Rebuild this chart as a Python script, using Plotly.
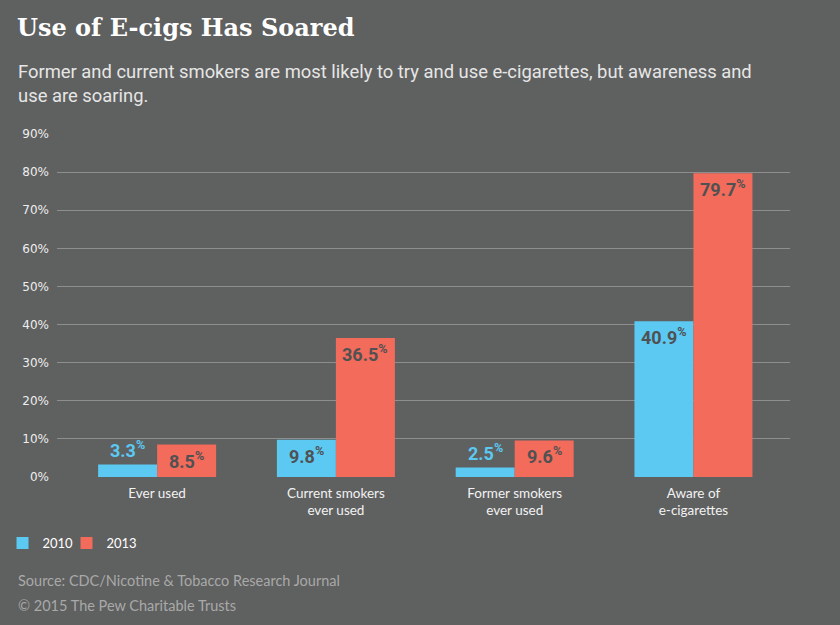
import plotly.graph_objects as go

categories = ["Ever used", "Current smokers<br>ever used", "Former smokers<br>ever used", "Aware of<br>e-cigarettes"]
years = ["2010", "2013"]
values_2010 = [3.3, 9.8, 2.5, 40.9]
values_2013 = [8.5, 36.5, 9.6, 79.7]
y_ticks = [0, 10, 20, 30, 40, 50, 60, 70, 80, 90]
y_ticktext = [f"{v}%" for v in y_ticks]

BG = "#5f6060"
BLUE = "#5bc9f2"
RED = "#f26b5b"
DARK = "#505152"
GRID = "#8e8e8e"

W, H = 840, 625
L, R, T, B = 57, 790, 134, 477  # plot area in px


def px_x(p):
    return (p - L) / (R - L)


def px_y(p):
    return (B - p) / (B - T)


xs = list(range(len(categories)))
BARGAP = 0.34
half = (1 - BARGAP) / 4  # offset of each bar center within the group

fig = go.Figure()
fig.add_trace(go.Bar(x=xs, y=values_2010, name=years[0], legend="legend",
                     marker=dict(color=BLUE, line=dict(width=0))))
fig.add_trace(go.Bar(x=xs, y=values_2013, name=years[1], legend="legend2",
                     marker=dict(color=RED, line=dict(width=0))))

SMALL = 5  # bars shorter than this get outside labels
annotations = []
for series, off, color in ((values_2010, -half, BLUE), (values_2013, half, RED)):
    for i, v in enumerate(series):
        inside = v >= SMALL
        annotations.append(dict(
            x=i + off, y=v, xref="x", yref="y",
            text=f"<b>{v}<sup>%</sup></b>",
            showarrow=False,
            yanchor="top" if inside else "bottom",
            yshift=-1 if inside else 1,
            font=dict(family="Roboto", size=18, color=DARK if inside else color),
        ))

annotations.append(dict(
    xref="paper", yref="paper", x=px_x(16), y=px_y(59), xanchor="left", yanchor="top",
    text="Former and current smokers are most likely to try and use e-cigarettes, but awareness and<br>use are soaring.",
    align="left", showarrow=False,
    font=dict(family="Roboto", size=18.4, color="#e6e6e6"),
))
annotations.append(dict(
    xref="paper", yref="paper", x=px_x(16), y=px_y(580), xanchor="left", yanchor="middle",
    text="Source: CDC/Nicotine &amp; Tobacco Research Journal", showarrow=False,
    font=dict(family="Lato", size=14.5, color="#a9a9a9"),
))
annotations.append(dict(
    xref="paper", yref="paper", x=px_x(16), y=px_y(605), xanchor="left", yanchor="middle",
    text="© 2015 The Pew Charitable Trusts", showarrow=False,
    font=dict(family="Lato", size=14.5, color="#a9a9a9"),
))

legend_common = dict(
    orientation="h", xref="container", yref="container",
    y=1 - 543 / H, xanchor="left", yanchor="middle",
    font=dict(family="Lato", size=13, color="#ffffff"),
    bgcolor="rgba(0,0,0,0)", itemwidth=30,
)

fig.update_layout(
    width=W, height=H,
    paper_bgcolor=BG, plot_bgcolor=BG,
    margin=dict(l=L, r=W - R, t=T, b=H - B, pad=0, autoexpand=False),
    barmode="group", bargap=BARGAP, bargroupgap=0,
    title=dict(
        text="<b>Use of E-cigs Has Soared</b>",
        x=17 / W, xanchor="left", xref="container",
        y=1 - 28 / H, yanchor="middle", yref="container",
        font=dict(family="DejaVu Serif", size=24, color="#ffffff"),
    ),
    xaxis=dict(
        tickvals=xs, ticktext=categories, range=[-0.56, 3.54],
        showgrid=False, zeroline=False, showline=False, ticks="",
        tickfont=dict(family="Lato", size=13.5, color="#f2f2f2"),
        ticklabelstandoff=6,
    ),
    yaxis=dict(
        tickvals=y_ticks, ticktext=y_ticktext, range=[0, 90],
        showgrid=True, gridcolor=GRID, gridwidth=1.2, zeroline=False, showline=False,
        ticks="", ticklabelstandoff=7,
        tickfont=dict(family="DejaVu Sans", size=12, color="#eeeeee"),
    ),
    legend=dict(x=2.5 / W, **legend_common),
    legend2=dict(x=66.5 / W, **legend_common),
    annotations=annotations,
    showlegend=True,
)

fig.write_html("out.html", config={"displayModeBar": False},
               post_script="document.body.style.margin='0';")
